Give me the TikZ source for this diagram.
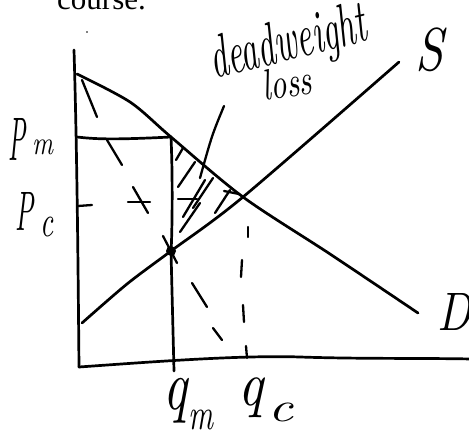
\documentclass[tikz,border=0pt]{standalone}
\usepackage{fontspec}
\usepackage{graphicx}
\newfontfamily\timesf{Liberation Serif}
\newcommand{\hwtxt}[3]{\resizebox*{#1}{#2}{#3}}
\begin{document}
\begin{tikzpicture}[x=1pt,y=-1pt,
  ink/.style={line width=2.7pt, line cap=round, line join=round},
  scrib/.style={line width=2.3pt, line cap=round},
  lab/.style={inner sep=0pt, anchor=north west},
  hand/.style={inner sep=0pt, anchor=base west, font=\itshape}]
\useasboundingbox (0,0) rectangle (469,431);
\begin{scope}
\clip (0,0) rectangle (469,431);
\node[inner sep=0pt, anchor=base west, font=\timesf\fontsize{31}{31}\selectfont] (course) at (57,9.5) {course.};
\fill (87,32) circle (0.9);

% axes
\coordinate (ytop) at (74,50);
\coordinate (O) at (79,367);
\coordinate (xr) at (472,359);
\draw[ink] (ytop) .. controls (77,150) and (78,260) .. (O);
\draw[ink] (O) .. controls (150,362) and (240,355) .. (300,357) .. controls (360,359) and (420,358) .. (xr);

% key points
\coordinate (Dtop) at (77,74);
\coordinate (A) at (171,137);
\coordinate (E) at (243,197);
\coordinate (Dend) at (418,313);
\coordinate (Sstart) at (82,323);
\coordinate (M) at (171,251);
\coordinate (Send) at (399,62);
\coordinate (qmB) at (174,371);

% demand
\draw[ink] plot[smooth, tension=0.5] coordinates {(Dtop) (130,102) (A) (E) (330,254) (Dend)};
% supply
\draw[ink] plot[smooth, tension=0.5] coordinates {(Sstart) (127,284) (M) (E) (Send)};
% Pm horizontal
\draw[ink] (77,137) .. controls (95,139) and (110,140) .. (A);
% qm vertical
\draw[ink] (A) .. controls (173,180) and (172,240) .. (M) -- (qmB);
% dot
\fill (M) circle (5);
% dashed qc
\draw[scrib] (248,227) -- (248,237);
\draw[scrib] (242,260) -- (241,277);
\draw[scrib] (243,305) -- (244,322);
\draw[scrib] (246,346) -- (247,358);

% hatching
\draw[scrib] (176,160) -- (183,148);
\draw[scrib] (178,187) -- (195,162);
\draw[scrib] (183,217) -- (205,180);
\draw[scrib] (193,208) -- (213,178);
\draw[scrib] (215,213) -- (230,190);
\draw[scrib] (180,232) -- (200,203);
\draw[scrib] (178,199) -- (197,199);
\draw[scrib] (224,191) -- (239,194);
% pointer
\draw[scrib] (224,106) .. controls (212,135) .. (200,178);

% scribble marks
\draw[scrib] (82,80) -- (97,117);
\draw[scrib] (107,140) -- (122,165);
\draw[scrib] (128,202) -- (150,202);
\draw[scrib] (133,187) -- (148,213);
\draw[scrib] (78,206) -- (92,205);
\draw[scrib] (163,236) -- (177,263);
\draw[scrib] (192,283) -- (207,307);
\draw[scrib] (213,328) -- (222,340);

% labels
\node[lab] (Pm1) at (8,118) {\hwtxt{17pt}{42pt}{\itshape P}};
\node[lab] (Pm2) at (32,140) {\hwtxt{21pt}{15pt}{\itshape m}};
\node[lab] (Pc1) at (15,192) {\hwtxt{18pt}{38pt}{\itshape P}};
\node[lab] (Pc2) at (40,217) {\hwtxt{13pt}{20pt}{\itshape c}};
\node[lab] (qm1) at (163,378) {\hwtxt{24pt}{45pt}{\itshape q}};
\node[lab] (qm2) at (188,410) {\hwtxt{25pt}{20pt}{\itshape m}};
\node[lab] (qc1) at (238,377) {\hwtxt{25pt}{40pt}{\itshape q}};
\node[lab] (qc2) at (268,403) {\hwtxt{25pt}{19pt}{\itshape c}};
\node[lab] (S) at (415,28) {\hwtxt{28pt}{44pt}{\itshape S}};
\node[lab] (D) at (437,293) {\hwtxt{34pt}{37pt}{\itshape D}};
\node[hand, rotate=14] (dw) at (214,79) {\resizebox{160pt}{42pt}{deadweight}};
\node[hand, rotate=9] (loss) at (264,101) {\resizebox{50pt}{30pt}{loss}};
\end{scope}
\end{tikzpicture}
\end{document}
